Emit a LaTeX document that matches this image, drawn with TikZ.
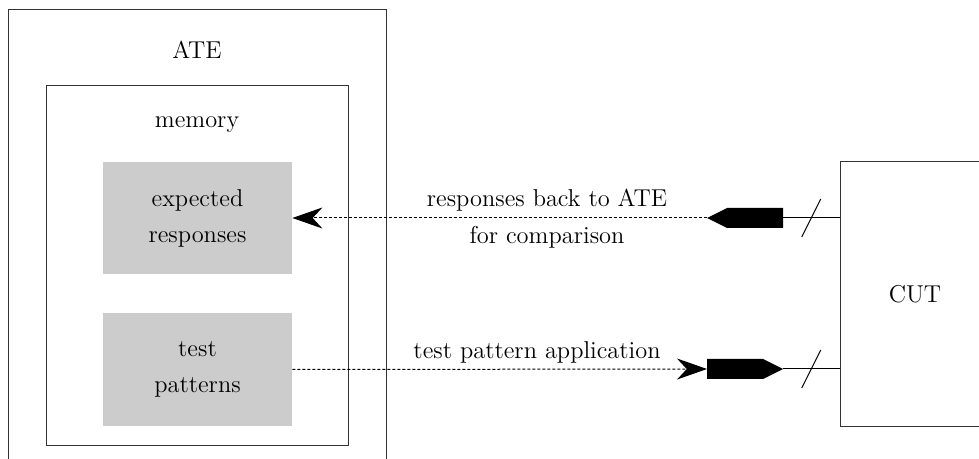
\documentclass[tikz,border=0pt]{standalone}
\usetikzlibrary{arrows.meta,calc}
\begin{document}
\begin{tikzpicture}[x=0.5pt,y=-0.5pt,
  lbl/.style={font=\fontsize{12.2}{14}\selectfont, inner sep=0pt, align=center},
  frame/.style={draw=black!80, line width=0.5pt, inner sep=0pt},
  store/.style={fill=black!20, inner sep=0pt, minimum width=94.5pt, align=center, font=\fontsize{12.2}{18}\selectfont},
  plug/.style={inner sep=0pt, outer sep=0pt, minimum width=38pt, minimum height=10pt},
  link/.style={line width=0.5pt, dash pattern=on 1.5pt off 1pt, -{Stealth[length=15pt,width=10.5pt]}},
  wire/.style={line width=0.5pt},
  bus/.style={line width=0.5pt}]
\clip (0,0) rectangle (979,459);
% ATE enclosure (runs past the lower edge)
\node[frame, minimum width=188.75pt, minimum height=235pt] (ate) at (197.25,245) {};
\node[lbl] (atelabel) at (197,50) {ATE};
% memory block
\node[frame, minimum width=151pt, minimum height=179.5pt] (mem) at (197,265.5) {};
\node[lbl] (memlabel) at (197,125) {memory};
% stored data
\node[store, minimum height=56pt] (exp) at (197.5,218) {expected\\responses};
\node[store, minimum height=56.5pt] (pat) at (197.5,369.5) {test\\patterns};
% circuit under test
\node[frame, minimum width=75pt, minimum height=132pt] (cut) at (915,294) {};
\node[lbl] (cutlabel) at (915,294) {CUT};
% connectors on the CUT side
\node[plug, anchor=east] (rplug) at (783,218) {};
\node[plug, anchor=west] (tplug) at (707,369) {};
\fill (rplug.north east) -- (rplug.south east) -- ($(rplug.south west)+(20,0)$)
      -- (rplug.west) -- ($(rplug.north west)+(20,0)$) -- cycle;
\fill (tplug.north west) -- (tplug.south west) -- ($(tplug.south east)+(-20,0)$)
      -- (tplug.east) -- ($(tplug.north east)+(-20,0)$) -- cycle;
\coordinate (rin) at (cut.west |- rplug.east);
\coordinate (tin) at (cut.west |- tplug.east);
\draw[wire] (rplug.east) -- (rin);
\draw[wire] (tplug.east) -- (tin);
\coordinate (rmid) at ($(rplug.east)!0.5!(rin)$);
\coordinate (tmid) at ($(tplug.east)!0.5!(tin)$);
\draw[bus] ($(rmid)+(-9.5,19)$) -- ($(rmid)+(9.5,-19)$);
\draw[bus] ($(tmid)+(-9.5,19)$) -- ($(tmid)+(9.5,-19)$);
% flows
\draw[link] (rplug.west) -- (exp.east);
\draw[link] (pat.east) -- (tplug.west);
\node[lbl] (l1) at (547,200) {responses back to ATE};
\node[lbl] (l2) at (547,237) {for comparison};
\node[lbl] (l3) at (537,352) {test pattern application};
\end{tikzpicture}
\end{document}
